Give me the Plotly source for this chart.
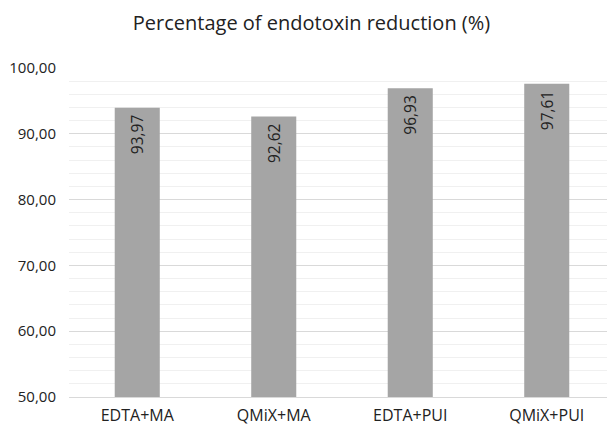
import plotly.graph_objects as go

categories = ["EDTA+MA", "QMiX+MA", "EDTA+PUI", "QMiX+PUI"]
values = [93.97, 92.62, 96.93, 97.61]
labels = [f"{v:.2f}".replace(".", ",") + "\u00a0" for v in values]

fig = go.Figure(go.Bar(
    x=categories, y=values, base=0,
    text=labels, textposition="inside", textangle=-90,
    insidetextanchor="end",
    textfont=dict(family="Open Sans", size=15.5, color="#222222"),
    marker=dict(color="#a5a5a5", line=dict(width=0)),
    width=0.33,
))

fig.update_layout(
    width=607, height=423,
    margin=dict(l=61, r=0, t=60, b=34),
    paper_bgcolor="white", plot_bgcolor="white",
    separators=",.",
    title=dict(text="Percentage of endotoxin reduction (%)", x=0.5, xref="container",
               y=0.965, yref="container", yanchor="middle",
               font=dict(family="Open Sans", size=20, color="#222222")),
    font=dict(family="Open Sans", size=15, color="#222222"),
    showlegend=False,
)
fig.update_yaxes(range=[50, 100], dtick=10, tickformat=".2f",
                 showgrid=True, gridcolor="#d9d9d9", gridwidth=1,
                 minor=dict(dtick=2, showgrid=True, gridcolor="#f0f0f0", gridwidth=1),
                 zeroline=False, showline=False, ticks="",
                 ticklabelstandoff=12,
                 tickfont=dict(size=15, color="#222222"))
fig.update_xaxes(showline=True, linecolor="#d9d9d9", ticks="",
                 ticklabelstandoff=4,
                 tickfont=dict(size=16, color="#222222"))

fig.write_html("out.html")
